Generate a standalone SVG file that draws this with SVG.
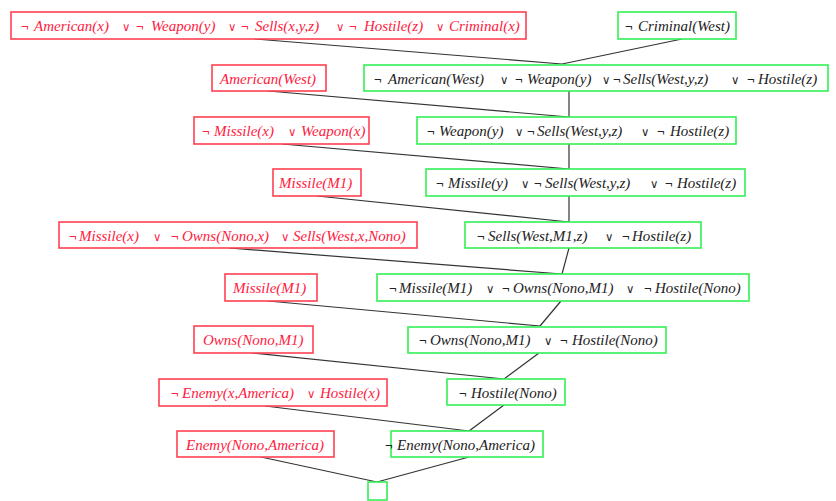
<svg xmlns="http://www.w3.org/2000/svg" width="836" height="501" viewBox="0 0 836 501">
<style>
rect.r{fill:#fff;stroke:#ff4050;stroke-width:1.6}
rect.g{fill:#fff;stroke:#33f055;stroke-width:1.6}
text{font-family:"Liberation Serif","DejaVu Serif",serif;font-size:15px;font-style:italic}
text.rt{fill:#ff2040}
text.gt{fill:#222}
tspan.op{font-family:"DejaVu Sans",sans-serif;font-style:normal;font-size:11.5px}
tspan.n{font-family:"Liberation Sans",sans-serif;font-style:normal;font-size:13px}
#edges line{stroke:#333;stroke-width:1.2}
</style>
<rect width="836" height="501" fill="#fff"/>
<g id="edges">
<line x1="255" y1="39" x2="562" y2="64"/>
<line x1="682" y1="39" x2="562" y2="64"/>
<line x1="268" y1="91" x2="569" y2="117"/>
<line x1="569" y1="91" x2="569" y2="117"/>
<line x1="282" y1="144" x2="569" y2="169"/>
<line x1="569" y1="144" x2="569" y2="169"/>
<line x1="317" y1="196" x2="569" y2="222"/>
<line x1="569" y1="196" x2="569" y2="222"/>
<line x1="229" y1="248" x2="562" y2="274"/>
<line x1="569" y1="248" x2="562" y2="274"/>
<line x1="268" y1="301" x2="540" y2="326"/>
<line x1="561" y1="301" x2="540" y2="326"/>
<line x1="252" y1="353" x2="504" y2="379"/>
<line x1="539" y1="353" x2="504" y2="379"/>
<line x1="265" y1="406" x2="469" y2="431"/>
<line x1="504" y1="405" x2="469" y2="431"/>
<line x1="261" y1="457" x2="377" y2="482"/>
<line x1="469" y1="457" x2="377" y2="482"/>
</g>
<g id="n1">
<rect class="r" x="11" y="12" width="515" height="27"/>
<text class="rt" y="31"><tspan class="n" x="21">¬</tspan><tspan x="34">American(x)</tspan><tspan class="op" x="122">∨</tspan><tspan class="n" x="136">¬</tspan><tspan x="151">Weapon(y)</tspan><tspan class="op" x="228">∨</tspan><tspan class="n" x="241">¬</tspan><tspan x="255">Sells(x,y,z)</tspan><tspan class="op" x="336">∨</tspan><tspan class="n" x="349">¬</tspan><tspan x="364">Hostile(z)</tspan><tspan class="op" x="436">∨</tspan><tspan x="449">Criminal(x)</tspan></text>
</g>
<g id="n2">
<rect class="g" x="618" y="12" width="118" height="27"/>
<text class="gt" y="31"><tspan class="n" x="625">¬</tspan><tspan x="638">Criminal(West)</tspan></text>
</g>
<g id="n3">
<rect class="r" x="212" y="65" width="114" height="26"/>
<text class="rt" x="220" y="84">American(West)</text>
</g>
<g id="n4">
<rect class="g" x="364" y="65" width="464" height="26"/>
<text class="gt" y="84"><tspan class="n" x="374">¬</tspan><tspan x="388">American(West)</tspan><tspan class="op" x="500">∨</tspan><tspan class="n" x="515">¬</tspan><tspan x="527">Weapon(y)</tspan><tspan class="op" x="602">∨</tspan><tspan class="n" x="613">¬</tspan><tspan x="623">Sells(West,y,z)</tspan><tspan class="op" x="731">∨</tspan><tspan class="n" x="747">¬</tspan><tspan x="758">Hostile(z)</tspan></text>
</g>
<g id="n5">
<rect class="r" x="194" y="117" width="175" height="27"/>
<text class="rt" y="136"><tspan class="n" x="202">¬</tspan><tspan x="214">Missile(x)</tspan><tspan class="op" x="288">∨</tspan><tspan x="301">Weapon(x)</tspan></text>
</g>
<g id="n6">
<rect class="g" x="417" y="117" width="319" height="27"/>
<text class="gt" y="136"><tspan class="n" x="427">¬</tspan><tspan x="439">Weapon(y)</tspan><tspan class="op" x="515">∨</tspan><tspan class="n" x="527">¬</tspan><tspan x="537">Sells(West,y,z)</tspan><tspan class="op" x="641">∨</tspan><tspan class="n" x="657">¬</tspan><tspan x="670">Hostile(z)</tspan></text>
</g>
<g id="n7">
<rect class="r" x="273" y="169" width="88" height="27"/>
<text class="rt" x="279" y="188">Missile(M1)</text>
</g>
<g id="n8">
<rect class="g" x="426" y="169" width="319" height="27"/>
<text class="gt" y="188"><tspan class="n" x="436">¬</tspan><tspan x="448">Missile(y)</tspan><tspan class="op" x="521">∨</tspan><tspan class="n" x="534">¬</tspan><tspan x="545">Sells(West,y,z)</tspan><tspan class="op" x="650">∨</tspan><tspan class="n" x="665">¬</tspan><tspan x="677">Hostile(z)</tspan></text>
</g>
<g id="n9">
<rect class="r" x="59" y="222" width="358" height="26"/>
<text class="rt" y="241"><tspan class="n" x="69">¬</tspan><tspan x="79">Missile(x)</tspan><tspan class="op" x="153">∨</tspan><tspan class="n" x="171">¬</tspan><tspan x="182">Owns(Nono,x)</tspan><tspan class="op" x="281">∨</tspan><tspan x="293">Sells(West,x,Nono)</tspan></text>
</g>
<g id="n10">
<rect class="g" x="465" y="222" width="236" height="26"/>
<text class="gt" y="241"><tspan class="n" x="477">¬</tspan><tspan x="488">Sells(West,M1,z)</tspan><tspan class="op" x="605">∨</tspan><tspan class="n" x="622">¬</tspan><tspan x="632">Hostile(z)</tspan></text>
</g>
<g id="n11">
<rect class="r" x="225" y="274" width="92" height="27"/>
<text class="rt" x="233" y="293">Missile(M1)</text>
</g>
<g id="n12">
<rect class="g" x="377" y="274" width="372" height="27"/>
<text class="gt" y="293"><tspan class="n" x="389">¬</tspan><tspan x="399">Missile(M1)</tspan><tspan class="op" x="486">∨</tspan><tspan class="n" x="502">¬</tspan><tspan x="513">Owns(Nono,M1)</tspan><tspan class="op" x="626">∨</tspan><tspan class="n" x="644">¬</tspan><tspan x="655">Hostile(Nono)</tspan></text>
</g>
<g id="n13">
<rect class="r" x="194" y="326" width="119" height="27"/>
<text class="rt" x="203" y="345">Owns(Nono,M1)</text>
</g>
<g id="n14">
<rect class="g" x="408" y="327" width="258" height="26"/>
<text class="gt" y="345"><tspan class="n" x="419">¬</tspan><tspan x="430">Owns(Nono,M1)</tspan><tspan class="op" x="544">∨</tspan><tspan class="n" x="560">¬</tspan><tspan x="572">Hostile(Nono)</tspan></text>
</g>
<g id="n15">
<rect class="r" x="159" y="379" width="228" height="27"/>
<text class="rt" y="398"><tspan class="n" x="171">¬</tspan><tspan x="182">Enemy(x,America)</tspan><tspan class="op" x="307">∨</tspan><tspan x="320">Hostile(x)</tspan></text>
</g>
<g id="n16">
<rect class="g" x="447" y="379" width="118" height="26"/>
<text class="gt" y="398"><tspan class="n" x="459">¬</tspan><tspan x="471">Hostile(Nono)</tspan></text>
</g>
<g id="n17">
<rect class="r" x="177" y="431" width="157" height="26"/>
<text class="rt" x="186" y="450">Enemy(Nono,America)</text>
</g>
<g id="n18">
<rect class="g" x="391" y="431" width="152" height="26"/>
<text class="gt" y="450"><tspan class="n" x="385">¬</tspan><tspan x="397">Enemy(Nono,America)</tspan></text>
</g>
<g id="n19">
<rect class="g" x="368" y="482" width="19" height="18"/>
</g>
</svg>
